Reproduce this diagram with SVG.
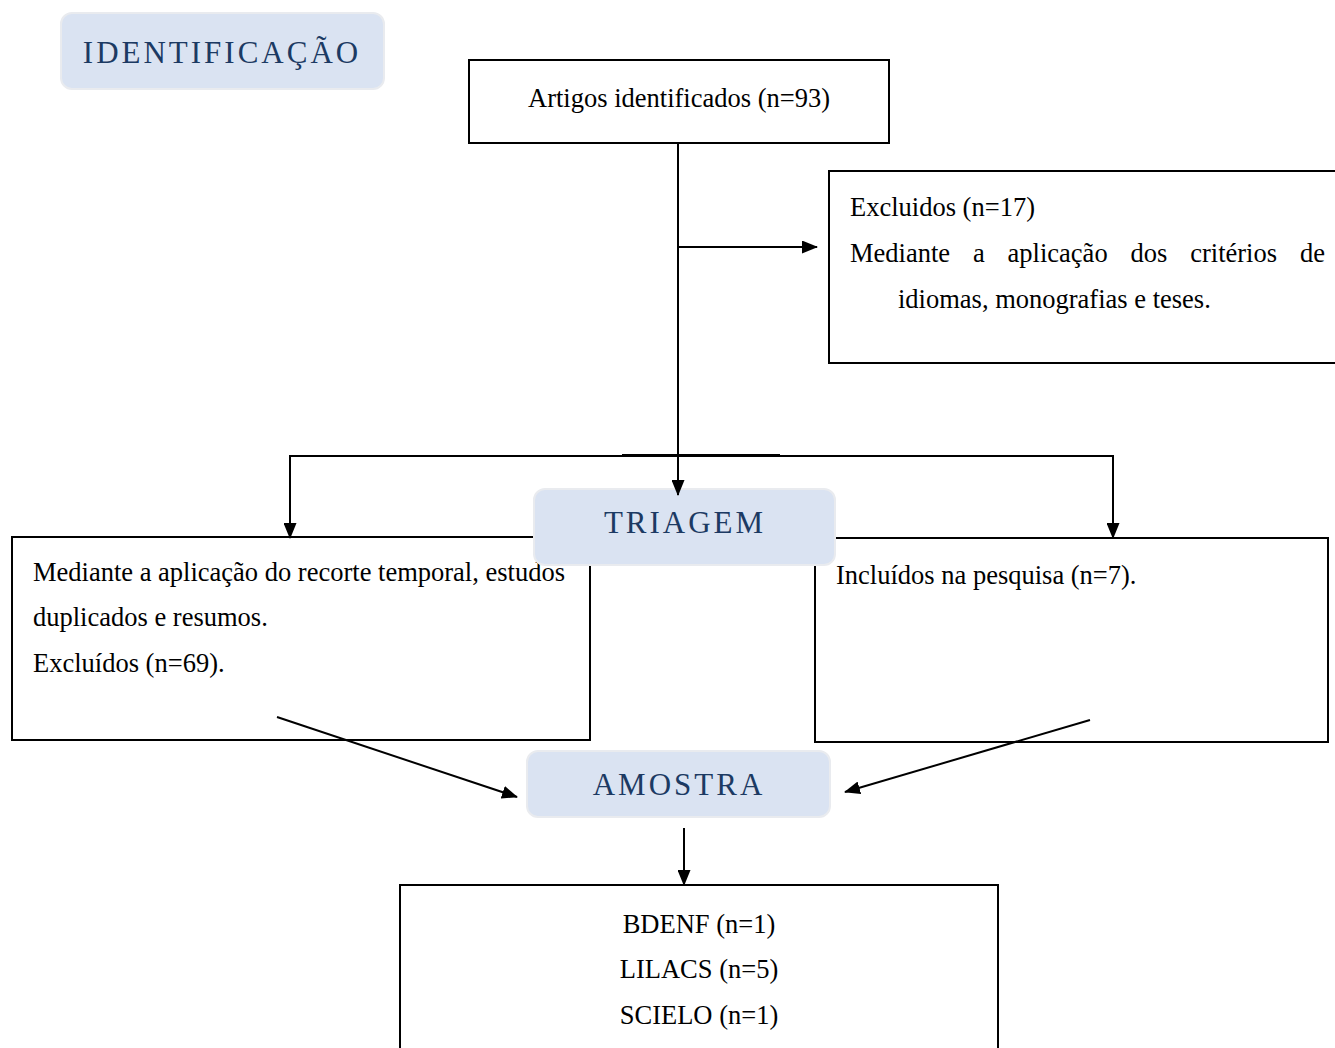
<svg xmlns="http://www.w3.org/2000/svg" width="1335" height="1048" viewBox="0 0 1335 1048">
<style>
.box{fill:#fff;stroke:#000;stroke-width:2}
.lbl{fill:#dae3f2;stroke:#e9ebef;stroke-width:2}
.t{font-family:"Liberation Serif","Times New Roman",serif;font-size:26.5px;fill:#000}
.h{font-family:"Liberation Serif","Times New Roman",serif;font-size:31px;fill:#1c3a63;letter-spacing:3px}
.c{fill:none;stroke:#000;stroke-width:2}
</style>
<defs>
<marker id="ahb" markerWidth="16" markerHeight="13" refX="15" refY="6.5" orient="auto" markerUnits="userSpaceOnUse" viewBox="0 0 16 13">
<path d="M0,0 L16,6.5 L0,13 z" fill="#000"/>
</marker>
</defs>
<rect width="1335" height="1048" fill="#fff"/>
<g id="identificacao">
<rect class="lbl" x="61" y="13" width="323" height="76" rx="11"/>
<text class="h" x="222" y="63" text-anchor="middle">IDENTIFICAÇÃO</text>
</g>
<g id="artigos">
<rect class="box" x="469" y="60" width="420" height="83"/>
<text class="t" x="679" y="107" text-anchor="middle">Artigos identificados (n=93)</text>
</g>
<g id="excluidos17">
<rect class="box" x="829" y="171" width="510" height="192"/>
<text class="t" x="850" y="216">Excluidos (n=17)</text>
<text class="t" y="262"><tspan x="850">Mediante</tspan><tspan x="973">a</tspan><tspan x="1007.6">aplicação</tspan><tspan x="1130.5">dos</tspan><tspan x="1190.2">critérios</tspan><tspan x="1300">de</tspan></text>
<text class="t" x="898" y="308">idiomas, monografias e teses.</text>
</g>
<g id="excluidos69">
<rect class="box" x="12" y="537" width="578" height="203"/>
<text class="t" x="33" y="581">Mediante a aplicação do recorte temporal, estudos</text>
<text class="t" x="33" y="626">duplicados e resumos.</text>
<text class="t" x="33" y="672">Excluídos (n=69).</text>
</g>
<g id="incluidos">
<rect class="box" x="815" y="538" width="513" height="204"/>
<text class="t" x="836" y="584">Incluídos na pesquisa (n=7).</text>
</g>
<g id="triagem">
<rect class="lbl" x="534" y="489" width="301" height="76" rx="11"/>
<text class="h" x="685" y="533" text-anchor="middle">TRIAGEM</text>
</g>
<g id="amostra">
<rect class="lbl" x="527" y="751" width="303" height="66" rx="11"/>
<text class="h" x="679" y="795" text-anchor="middle">AMOSTRA</text>
</g>
<g id="bases">
<rect class="box" x="400" y="885" width="598" height="170"/>
<text class="t" x="699" y="933" text-anchor="middle">BDENF (n=1)</text>
<text class="t" x="699" y="978" text-anchor="middle">LILACS (n=5)</text>
<text class="t" x="699" y="1024" text-anchor="middle">SCIELO (n=1)</text>
</g>
<g id="connectors">
<line class="c" x1="678" y1="143" x2="678" y2="495" marker-end="url(#ahb)"/>
<line class="c" x1="678" y1="247" x2="817" y2="247" marker-end="url(#ahb)"/>
<polyline class="c" points="290,538 290,456 1113,456 1113,538" marker-end="url(#ahb)"/>
<line class="c" x1="290" y1="470" x2="290" y2="538" marker-end="url(#ahb)"/>
<line class="c" x1="622" y1="455" x2="780" y2="455"/>
<line class="c" x1="277" y1="717" x2="517" y2="797" marker-end="url(#ahb)"/>
<line class="c" x1="1090" y1="720" x2="845" y2="792" marker-end="url(#ahb)"/>
<line class="c" x1="684" y1="828" x2="684" y2="885" marker-end="url(#ahb)"/>
</g>
</svg>
